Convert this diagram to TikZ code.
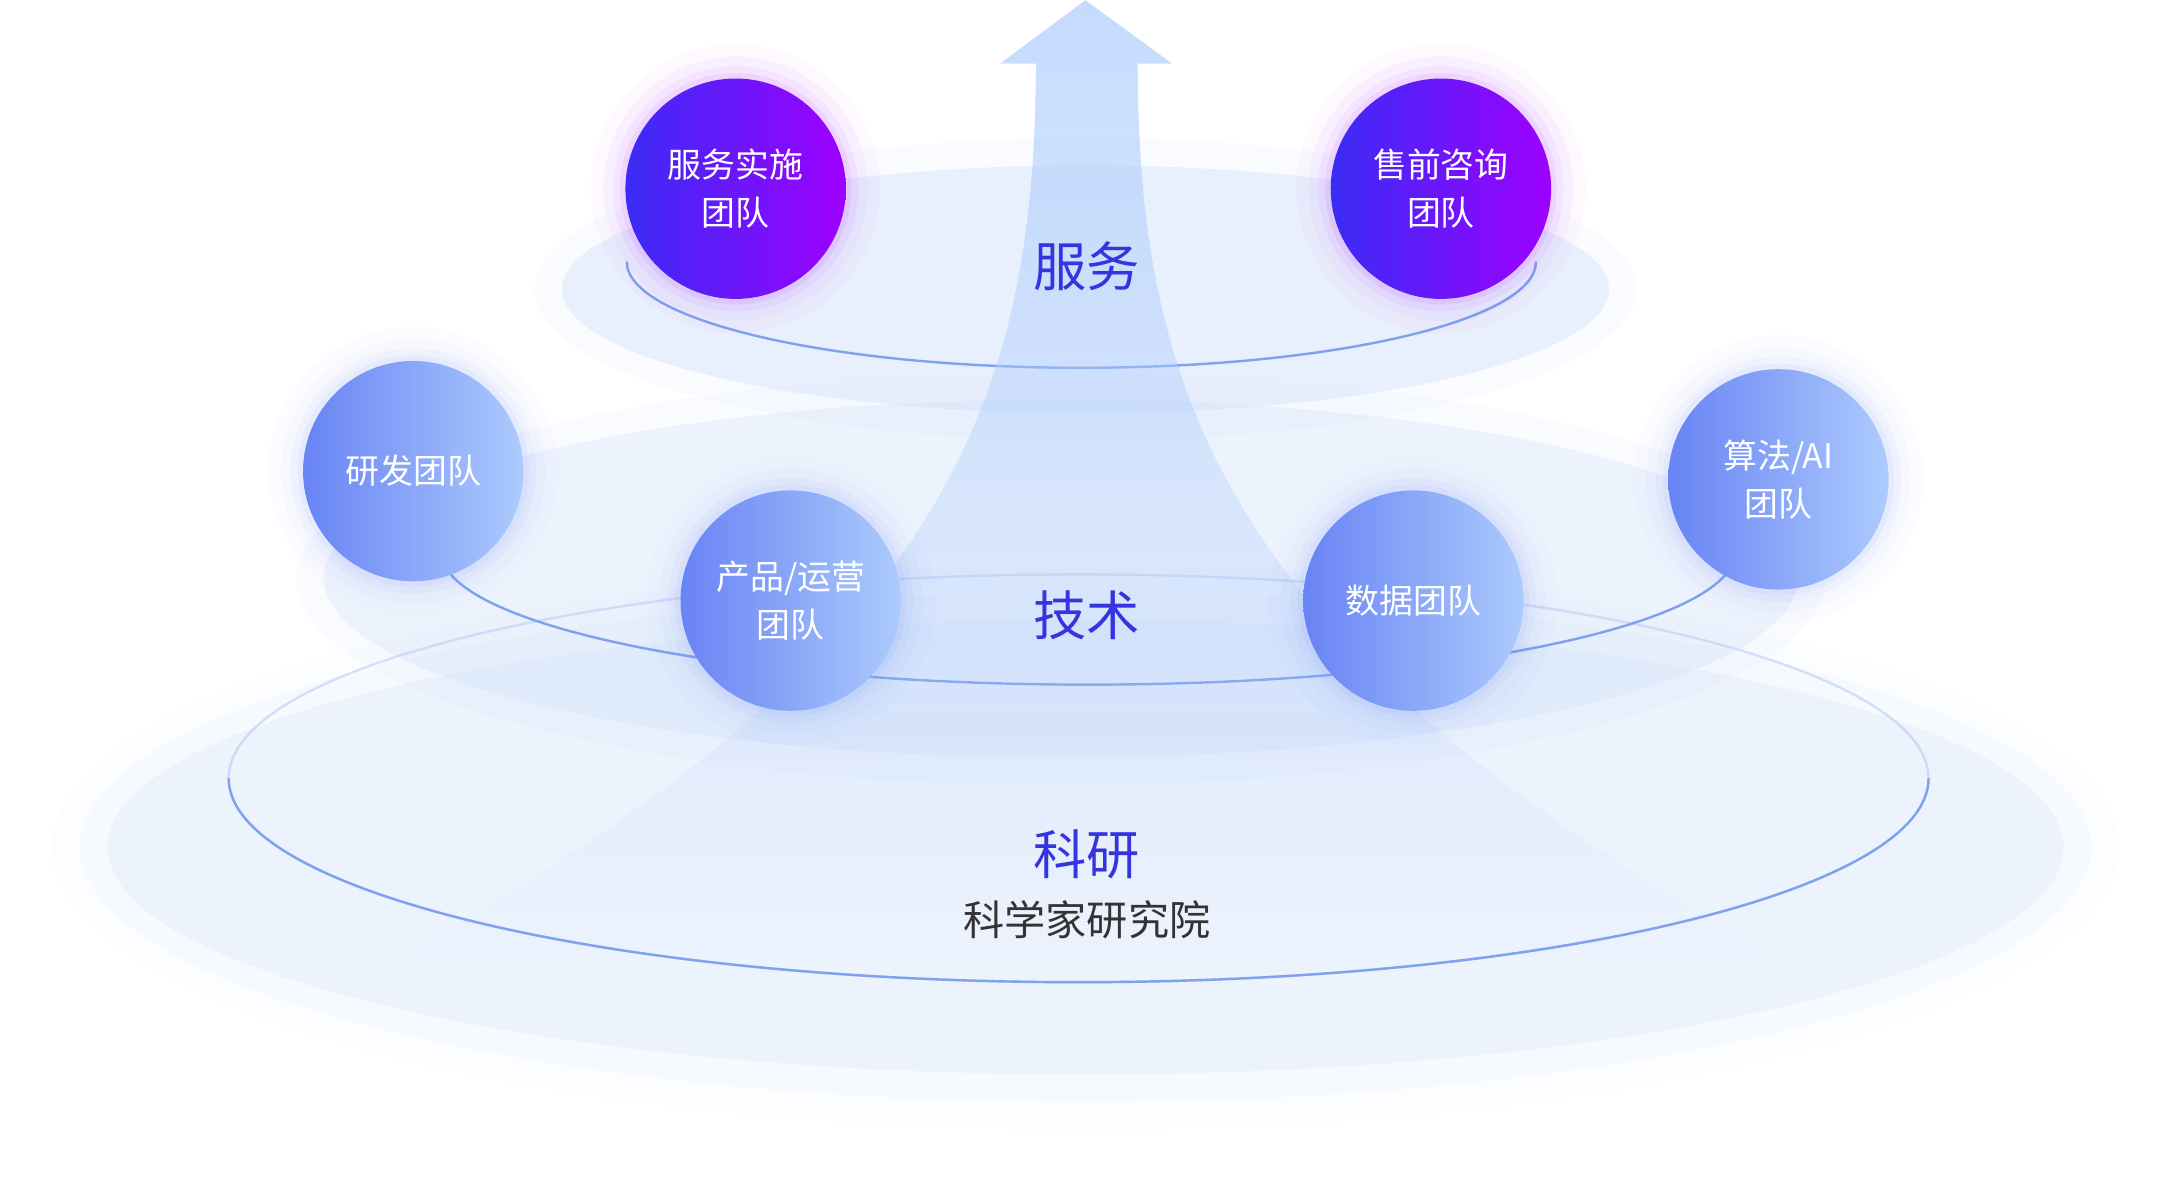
\documentclass[tikz,border=0pt]{standalone}
\usepackage{fontspec}
\setmainfont{Noto Sans CJK SC}
\usetikzlibrary{shapes.geometric,fadings}
\definecolor{lb}{HTML}{B9D0F7}
\definecolor{ln}{HTML}{7FA2EE}
\definecolor{tb}{HTML}{3434E0}
\definecolor{dg}{HTML}{333333}
\definecolor{HTML3A2CF5}{HTML}{3A2CF5}
\definecolor{HTML9E00FF}{HTML}{9E00FF}
\definecolor{HTML6883F4}{HTML}{6883F4}
\definecolor{HTMLACCBFD}{HTML}{ACCBFD}
\tikzset{
 pur/.style={circle,minimum size=16mm,inner sep=0pt,left color=HTML3A2CF5,right color=HTML9E00FF,text=white,font=\fontsize{7}{10}\selectfont,align=center},
 blu/.style={circle,minimum size=16mm,inner sep=0pt,left color=HTML6883F4,right color=HTMLACCBFD,text=white,font=\fontsize{7}{10}\selectfont,align=center},
 lvl/.style={text=tb,font=\fontsize{11}{13}\selectfont},
 ring/.style={draw=ln,line width=0.5pt},
}
\begin{document}
\begin{tikzpicture}[x=0.1mm,y=-0.1mm]
\useasboundingbox (0,0) rectangle (1568,860);
% bottom layer
\foreach \k/\o in {40/0.05,20/0.08,0/0.15}{
 \fill[lb,opacity=\o] (788,615) ellipse ({710+\k} and {165+\k});}
\draw[ring,opacity=0.3] (783,565) ellipse (617 and 148);
\draw[ring] (166,565) arc[start angle=180,end angle=0,x radius=617,y radius=148];
% middle layer
\foreach \k/\o in {20/0.08,0/0.2}{
 \fill[lb,opacity=\o] (770,420) ellipse ({535+\k} and {130+\k});}
\draw[ring] (320,400) arc[start angle=180,end angle=0,x radius=470,y radius=97];
% top layer
\foreach \k/\o in {20/0.08,0/0.25}{
 \fill[lb,opacity=\o] (788,210) ellipse ({380+\k} and {90+\k});}
\draw[ring] (455,190) arc[start angle=180,end angle=0,x radius=330,y radius=77];
% arrow
\coordinate (tip) at (788,0);
\fill[HTMLACCBFD,opacity=0.7,path fading=south] (tip) -- (851,46) -- (826,46)
 .. controls (826,300) and (900,480) .. (1300,700)
 -- (280,700) .. controls (680,480) and (752,300) .. (752,46)
 -- (726,46) -- cycle;
% circles with glow
\foreach \p/\c in {{(534,137)}/HTML9E00FF,{(1046,137)}/HTML9E00FF,{(300,342)}/HTML6883F4,{(574,436)}/HTML6883F4,{(1026,436)}/HTML6883F4,{(1291,348)}/HTML6883F4}{
 \foreach \r/\o in {105/0.025,96/0.035,89/0.05,84/0.07}{\fill[\c,opacity=\o] \p circle (\r);}}
\node[pur] (a) at (534,137) {服务实施\\团队};
\node[pur] (b) at (1046,137) {售前咨询\\团队};
\node[blu] (c) at (300,342) {研发团队};
\node[blu] (d) at (574,436) {产品/运营\\团队};
\node[blu] (e) at (1026,436) {数据团队};
\node[blu] (f) at (1291,348) {算法/AI\\团队};
\node[lvl] (s) at (789,193) {服务};
\node[lvl] (t) at (789,447) {技术};
\node[lvl] (k) at (789,620) {科研};
\node[text=dg,font=\fontsize{8.5}{11}\selectfont] (ky) at (789,668) {科学家研究院};
\end{tikzpicture}
\end{document}
